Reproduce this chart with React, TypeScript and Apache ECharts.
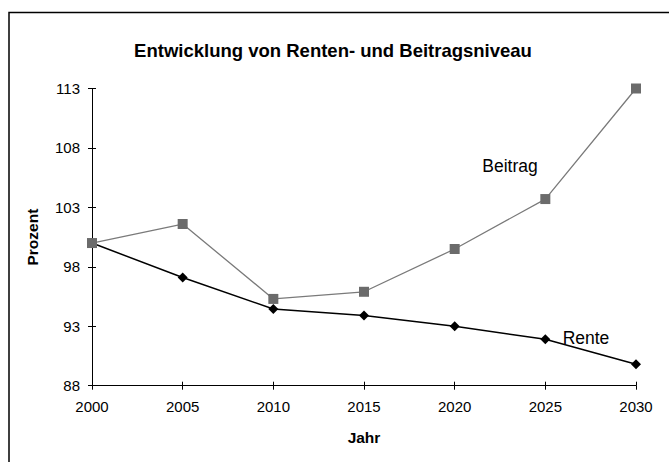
import React, { useEffect, useRef } from "react";
import * as echarts from "echarts";

const years = [2000, 2005, 2010, 2015, 2020, 2025, 2030];
const beitrag = [100, 101.6, 95.3, 95.9, 99.5, 103.7, 113];
const rente = [100, 97.1, 94.45, 93.9, 93.0, 91.9, 89.8];
const yTicks = [88, 93, 98, 103, 108, 113];

const FONT = "'Liberation Sans', Arial, sans-serif";

export default function App() {
  const ref = useRef<HTMLDivElement>(null);
  useEffect(() => {
    if (!ref.current) return;
    const chart = echarts.init(ref.current, null, { renderer: "svg" });
    const xMin = years[0];
    const xMax = years[years.length - 1];
    const yMin = yTicks[0];
    const yMax = yTicks[yTicks.length - 1];
    const baseX = {
      type: "value",
      min: xMin,
      max: xMax,
      interval: 5,
      splitLine: { show: false },
    };
    const baseY = {
      type: "value",
      min: yMin,
      max: yMax,
      interval: 5,
      splitLine: { show: false },
    };
    chart.setOption({
      animation: false,
      backgroundColor: "#ffffff",
      title: {
        text: "Entwicklung von Renten- und Beitragsniveau",
        left: 328,
        top: 36,
        textAlign: "center",
        textStyle: { fontFamily: FONT, fontSize: 18.5, fontWeight: "bold", color: "#000" },
      },
      grid: { left: 92, right: 33, top: 88.5, bottom: 76.3, containLabel: false },
      xAxis: [
        {
          ...baseX,
          name: "Jahr",
          nameLocation: "middle",
          nameGap: 44,
          nameTextStyle: { fontFamily: FONT, fontSize: 15.5, fontWeight: "bold", color: "#000" },
          axisLine: { show: true, lineStyle: { color: "#000", width: 1 } },
          axisTick: { show: true, length: 4, lineStyle: { color: "#000" } },
          axisLabel: {
            show: true,
            margin: 13,
            fontFamily: FONT,
            fontSize: 15,
            color: "#000",
            formatter: (v: number) => String(v),
          },
        },
        {
          ...baseX,
          position: "bottom",
          axisLine: { show: false },
          axisTick: { show: true, inside: true, length: 4, lineStyle: { color: "#000" } },
          axisLabel: { show: false },
        },
      ],
      yAxis: [
        {
          ...baseY,
          name: "Prozent",
          nameLocation: "middle",
          nameGap: 52,
          nameRotate: 90,
          nameTextStyle: { fontFamily: FONT, fontSize: 15.5, fontWeight: "bold", color: "#000" },
          axisLine: { show: true, lineStyle: { color: "#000", width: 1 } },
          axisTick: { show: true, length: 4, lineStyle: { color: "#000" } },
          axisLabel: { show: true, margin: 12, fontFamily: FONT, fontSize: 15, color: "#000" },
        },
        {
          ...baseY,
          position: "left",
          axisLine: { show: false },
          axisTick: { show: true, inside: true, length: 4, lineStyle: { color: "#000" } },
          axisLabel: { show: false },
        },
      ],
      series: [
        {
          name: "Rente",
          type: "line",
          data: years.map((y, i) => [y, rente[i]]),
          symbol: "diamond",
          symbolSize: 10,
          lineStyle: { color: "#000", width: 1.5 },
          itemStyle: { color: "#000" },
          z: 3,
        },
        {
          name: "Beitrag",
          type: "line",
          data: years.map((y, i) => [y, beitrag[i]]),
          symbol: "rect",
          symbolSize: 10,
          lineStyle: { color: "#7a7a7a", width: 1.3 },
          itemStyle: { color: "#6b6b6b" },
          z: 5,
        },
      ],
      graphic: [
        {
          type: "rect",
          shape: { x: 9, y: 12.5, width: 800, height: 600 },
          style: { fill: "none", stroke: "#000", lineWidth: 1.5 },
          silent: true,
        },
        {
          type: "text",
          x: 510,
          y: 166,
          style: {
            text: "Beitrag",
            fontFamily: FONT,
            fontSize: 17.5,
            fill: "#000",
            align: "center",
            verticalAlign: "middle",
          },
        },
        {
          type: "text",
          x: 586,
          y: 338,
          style: {
            text: "Rente",
            fontFamily: FONT,
            fontSize: 17.5,
            fill: "#000",
            align: "center",
            verticalAlign: "middle",
          },
        },
      ],
    });
    return () => chart.dispose();
  }, []);
  return (
    <div
      ref={ref}
      style={{ position: "fixed", left: 0, top: 0, width: 669, height: 462, background: "#fff" }}
    />
  );
}
